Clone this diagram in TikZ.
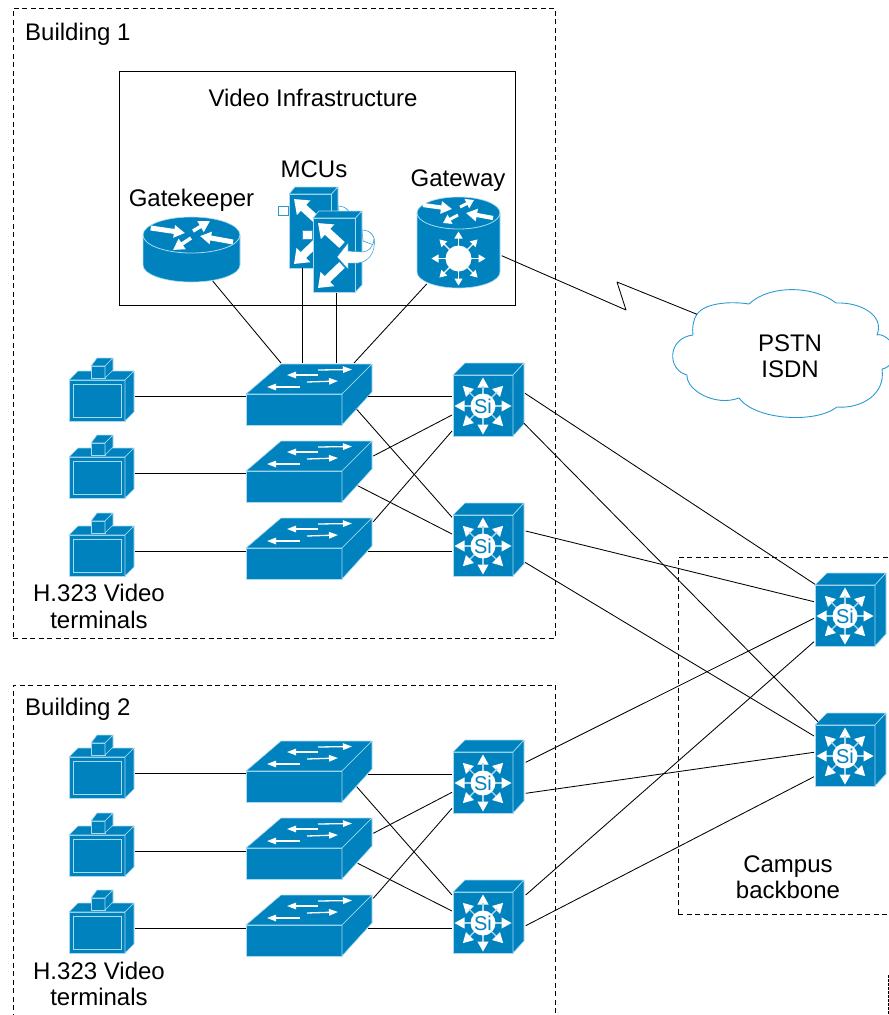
\documentclass[tikz,border=0pt]{standalone}
\usepackage{fontspec}
\setmainfont{Liberation Sans}
\usetikzlibrary{arrows.meta}
\definecolor{devblue}{HTML}{0082BF}
\definecolor{devedge}{HTML}{A9DAF0}
\definecolor{cloudblue}{HTML}{2B9AD2}
\tikzset{
  devbox/.style={anchor=north west,inner sep=0pt,outer sep=0pt},
  face/.style={fill=devblue,draw=devedge,line width=.6pt,line join=round},
  link/.style={draw=black,line width=.85pt},
  dashbox/.style={anchor=north west,inner sep=0pt,outer sep=0pt,draw=black,line width=.8pt,dash pattern=on 5pt off 3.5pt},
  lab/.style={font=\fontsize{24}{26.3}\selectfont,align=center,inner sep=0pt,text=black},
  thinarr/.style={draw=white,line width=1.3pt,-{Triangle[length=9pt,width=6.5pt,fill=white]}},
  wedge/.style={draw=white,line width=#1,-{Triangle[length=11pt,width=12pt,fill=white]}},
  bigarr/.style={draw=white,line width=8pt,-{Triangle[length=13pt,width=19pt,fill=white]}},
  silabel/.style={circle,fill=white,text=devblue,inner sep=0pt,minimum size=25pt,font=\fontsize{20}{20}\selectfont},
  pics/switchicon/.style={code={
    \path[face] (0,30) rectangle (96,61);
    \path[face] (0,30) -- (35,0) -- (126,0) -- (96,30) -- cycle;
    \path[face] (96,30) -- (126,0) -- (126,28) -- (96,61) -- cycle;
    \draw[thinarr] (72,6) -- (106,5.5);
    \draw[thinarr] (72,11) -- (41,11);
    \draw[thinarr] (61,18) -- (92,17);
    \draw[thinarr] (54,23) -- (21,23);
  }},
  pics/terminalicon/.style={code={
    \path[face] (-1,22) rectangle (55,63);
    \path[face] (-1,22) -- (8,13) -- (64,13) -- (55,22) -- cycle;
    \path[face] (55,22) -- (64,13) -- (64,54) -- (55,63) -- cycle;
    \draw[draw=devedge,line width=.7pt] (3,26) rectangle (51,59);
    \path[face] (21,8) rectangle (35,20);
    \path[face] (21,8) -- (27,0) -- (43,0) -- (35,8) -- cycle;
    \path[face] (35,8) -- (43,0) -- (43,12) -- (35,20) -- cycle;
  }},
  pics/siicon/.style={code={
    \path[face] (1,12) rectangle (61,73);
    \path[face] (1,12) -- (13,0) -- (72,0) -- (61,12) -- cycle;
    \path[face] (61,12) -- (72,0) -- (72,61) -- (61,73) -- cycle;
    \foreach \a in {0,45,...,315}{
      \draw[draw=devedge,line width=1.4pt] ([shift={(\a:11)}]31,43) -- ([shift={(\a:20)}]31,43);
      \fill[white,shift={(31,43)},rotate=\a] (28.5,0) -- (18.5,5.6) -- (18.5,-5.6) -- cycle;
    }
    \node[silabel] (-lab) at (31,43) {Si};
  }},
  pics/mcuicon/.style={code={
    \draw[draw=cloudblue,fill=white,line width=.6pt] (-11,19) rectangle (-1,28);
    \draw[draw=cloudblue,fill=white,line width=.6pt] (49,19) .. controls (58,19) and (63,26) .. (61,34)
       -- (50,30) -- cycle;
    \path[face] (0,7) rectangle (42.5,81);
    \path[face] (0,7) -- (6,0) -- (49,0) -- (42.5,7) -- cycle;
    \path[face] (42.5,7) -- (49,0) -- (49,74) -- (42.5,81) -- cycle;
    \draw[bigarr] (29,34) -- (5,12);
    \draw[bigarr] (29,54) -- (5,77);
    \draw[draw=cloudblue,fill=white,line width=.5pt,line join=round]
      (24,46) -- (35,32) -- (35,40) -- (49,41)
      .. controls (55,41) and (60,37) .. (61,28)
      .. controls (63,42) and (55,51) .. (45,52)
      -- (35,52) -- (35,58) -- cycle;
  }},
}
\newcommand{\placeSwitch}[3]{%
  \node[devbox,minimum width=126pt,minimum height=61pt] (#1) at (#2,#3) {};
  \pic (#1i) at (#2,#3) {switchicon};}
\newcommand{\placeTerm}[3]{%
  \node[devbox,minimum width=64pt,minimum height=63pt] (#1) at (#2,#3) {};
  \pic (#1i) at (#2,#3) {terminalicon};}
\newcommand{\placeSi}[3]{%
  \node[devbox,minimum width=73pt,minimum height=73pt] (#1) at (#2,#3) {};
  \pic (#1i) at (#2,#3) {siicon};}
\newcommand{\lk}[4]{\draw[link] ([shift={(#2)}]#1.north west) -- ([shift={(#4)}]#3.north west);}
\begin{document}
\begin{tikzpicture}[x=1pt,y=-1pt]
\useasboundingbox (0,0) rectangle (889,1015);
% containers
\node[dashbox,minimum width=542pt,minimum height=630pt] (bld1) at (13,8) {};
\node[dashbox,minimum width=542pt,minimum height=330pt] (bld2) at (13,685) {};
\node[dashbox,minimum width=211pt,minimum height=357pt] (campus) at (678,557) {};
\coordinate (fragA) at (888,975);
\coordinate (fragB) at (888,1015);
\draw[draw=black,line width=.8pt,dash pattern=on 2.5pt off 1.5pt] (fragA) -- (fragB);
\node[devbox,draw=black,line width=.8pt,minimum width=396pt,minimum height=234pt] (video) at (119,71) {};
% device frames
\placeTerm{t1}{70}{358}\placeTerm{t2}{70}{435}\placeTerm{t3}{70}{513}
\placeTerm{t4}{70}{735}\placeTerm{t5}{70}{813}\placeTerm{t6}{70}{890}
\placeSwitch{sw1}{246}{364}\placeSwitch{sw2}{246}{441}\placeSwitch{sw3}{246}{518}
\placeSwitch{sw4}{246}{741}\placeSwitch{sw5}{246}{818}\placeSwitch{sw6}{246}{895}
\placeSi{si1}{452}{363}\placeSi{si2}{452}{503}\placeSi{si3}{452}{740}\placeSi{si4}{452}{880}
\placeSi{core1}{814}{573}\placeSi{core2}{814}{713}
% gatekeeper
\node[devbox,minimum width=97pt,minimum height=65pt] (gk) at (143,217) {};
\begin{scope}[shift={(143,217)}]
  \path[face] (0,18) -- (0,48) .. controls (0,57.4) and (21.7,65) .. (48.5,65)
     .. controls (75.3,65) and (97,57.4) .. (97,48) -- (97,18)
     .. controls (97,8) and (75.3,0) .. (48.5,0) .. controls (21.7,0) and (0,8) .. (0,18) -- cycle;
  \draw[draw=devedge,line width=.8pt] (0,18) .. controls (0,28) and (21.7,36) .. (48.5,36)
     .. controls (75.3,36) and (97,28) .. (97,18);
  \draw[wedge=5pt] (7.7,11) -- (42,16);
  \draw[wedge=3.5pt] (50,14) -- (67,4);
  \draw[wedge=3.5pt] (48,21) -- (30,33);
  \draw[wedge=5pt] (90,25) -- (57,19);
\end{scope}
% gateway
\node[devbox,minimum width=83pt,minimum height=91pt] (gw) at (417,197) {};
\begin{scope}[shift={(417,197)}]
  \path[face] (0,16) -- (0,75) .. controls (0,83.8) and (18.7,91) .. (41.5,91)
     .. controls (64.3,91) and (83,83.8) .. (83,75) -- (83,16)
     .. controls (83,7.2) and (64.3,0) .. (41.5,0) .. controls (18.7,0) and (0,7.2) .. (0,16) -- cycle;
  \draw[draw=devedge,line width=.8pt] (0,16) .. controls (0,24.8) and (18.7,32) .. (41.5,32)
     .. controls (64.3,32) and (83,24.8) .. (83,16);
  \draw[wedge=4.2pt] (6,8) -- (35,12);
  \draw[draw=white,line width=3pt,-{Triangle[length=8pt,width=10pt,fill=white]}] (43,10) -- (57,3);
  \draw[draw=white,line width=3pt,-{Triangle[length=8pt,width=10pt,fill=white]}] (41,18) -- (26,26);
  \draw[wedge=4.2pt] (76,21) -- (49,16);
  \foreach \a in {0,45,...,315}{
    \draw[draw=white,line width=1.2pt,-{Triangle[length=7pt,width=8pt,fill=white]}]
      ([shift={(\a:12)}]41.5,61.5) -- ([shift={(\a:27)}]41.5,61.5);
  }
  \node[circle,fill=white,inner sep=0pt,minimum size=26pt] (hub) at (41.5,61.5) {};
\end{scope}
% MCUs
\node[devbox,minimum width=49pt,minimum height=81pt] (mcuA) at (289,187) {};
\node[devbox,minimum width=49pt,minimum height=81pt] (mcuB) at (313,211) {};
\pic (mcuAi) at (289,187) {mcuicon};
\pic (mcuBi) at (313,211) {mcuicon};
% cloud
\node[devbox,minimum width=217pt,minimum height=128pt] (cloud) at (672,289) {};
\draw[draw=cloudblue,line width=.9pt,line join=round] (697,314)
  .. controls (705,303) and (730,301) .. (749,304)
  .. controls (770,284) and (815,286) .. (836,303)
  .. controls (860,302) and (885,315) .. (877,335)
  .. controls (882,333) and (892,340) .. (896,350)
  .. controls (896,358) and (890,368) .. (882,369)
  .. controls (886,395) and (860,409) .. (837,407)
  .. controls (815,424) and (755,420) .. (739,398)
  .. controls (715,407) and (686,390) .. (687,375)
  .. controls (667,370) and (667,338) .. (693,335)
  .. controls (692,328) and (693,320) .. (697,314) -- cycle;
% connectors
\lk{gk}{69.7,64}{sw1}{35,-1}
\lk{mcuA}{13,81}{sw1}{56,-1}
\lk{mcuB}{23.5,82}{sw1}{90.5,-1}
\lk{gw}{9.7,87}{sw1}{108,-1}
\coordinate (zzA) at (626,310);
\coordinate (zzB) at (617,282);
\draw[link,line join=bevel] ([shift={(84.7,58.7)}]gw.north west) -- (zzA) -- (zzB) -- ([shift={(25,25.3)}]cloud.north west);
% terminals to switches
\lk{t1}{65,38}{sw1}{0,32}
\lk{t2}{65,38}{sw2}{0,32}
\lk{t3}{65,38}{sw3}{0,33}
\lk{t4}{65,38}{sw4}{0,32}
\lk{t5}{65,38}{sw5}{0,33}
\lk{t6}{65,38}{sw6}{0,33}
% switches to distribution
\lk{sw1}{122,32.7}{si1}{0,33.7}
\lk{sw1}{110.7,45.3}{si2}{0,14.3}
\lk{sw2}{127.3,15}{si1}{0,52}
\lk{sw2}{111.7,44.7}{si2}{0,31}
\lk{sw3}{127.3,3.7}{si1}{0,68}
\lk{sw3}{122.3,33.7}{si2}{0,48.7}
\lk{sw4}{122.3,33.3}{si3}{0,34.3}
\lk{sw4}{110.7,45.7}{si4}{0,15}
\lk{sw5}{127.3,15.3}{si3}{0,52.3}
\lk{sw5}{111.7,45.3}{si4}{0,31}
\lk{sw6}{127.3,3.3}{si3}{0,68.3}
\lk{sw6}{122.3,33.7}{si4}{0,48.7}
% distribution to core
\lk{si1}{73,30.3}{core1}{1,11.3}
\lk{si1}{72,60.3}{core2}{4,8.7}
\lk{si2}{73.7,28}{core1}{0,28.7}
\lk{si2}{73,59.3}{core2}{0,23}
\lk{si3}{73.7,22.3}{core1}{0,45.3}
\lk{si3}{73.7,53.3}{core2}{0,39.3}
\lk{si4}{73.7,15}{core1}{0,68.7}
\lk{si4}{73.7,45.7}{core2}{0,63.7}
% labels
\node[lab,anchor=west] (lb1) at (25,34) {Building 1};
\node[lab,anchor=west] (lb2) at (25,709) {Building 2};
\node[lab] (lvi) at (313,98) {Video Infrastructure};
\node[lab] (lgk) at (191.5,200) {Gatekeeper};
\node[lab] (lmc) at (314,169) {MCUs};
\node[lab] (lgw) at (458,181) {Gateway};
\node[lab] (lps) at (790,356) {PSTN\\ISDN};
\node[lab] (lh1) at (99,606.5) {H.323 Video\\terminals};
\node[lab] (lh2) at (99,984) {H.323 Video\\terminals};
\node[lab] (lcb) at (788,877) {Campus\\backbone};
\end{tikzpicture}
\end{document}
